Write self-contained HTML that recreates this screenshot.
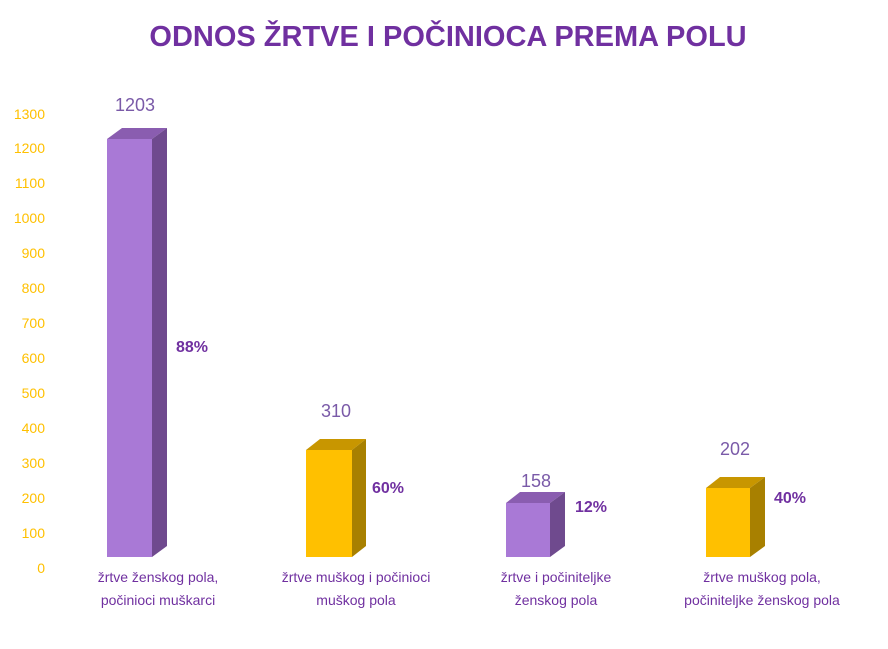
<!DOCTYPE html>
<html><head><meta charset="utf-8"><style>
body{margin:0;background:#fff;width:888px;height:644px;overflow:hidden;font-family:"Liberation Sans",sans-serif}
</style></head><body>
<svg width="888" height="644" xmlns="http://www.w3.org/2000/svg" font-family="Liberation Sans, sans-serif">
<text x="448" y="46" text-anchor="middle" font-size="29" font-weight="bold" fill="#7030A0">ODNOS ŽRTVE I POČINIOCA PREMA POLU</text>
<g fill="#FFC000" font-size="14" text-anchor="end">
<text x="45" y="573">0</text><text x="45" y="538">100</text><text x="45" y="503">200</text><text x="45" y="468">300</text><text x="45" y="433">400</text><text x="45" y="398">500</text><text x="45" y="363">600</text><text x="45" y="328">700</text><text x="45" y="293">800</text><text x="45" y="258">900</text><text x="45" y="223">1000</text><text x="45" y="188">1100</text><text x="45" y="153">1200</text><text x="45" y="119">1300</text>
</g>
<!-- bar1 -->
<polygon points="107,139 122,128 167,128 152,139" fill="#8A5DB0"/>
<polygon points="152,139 167,128 167,546 152,557" fill="#6F4A8E"/>
<rect x="107" y="139" width="45" height="418" fill="#A979D6"/>
<!-- bar2 -->
<polygon points="306,450 320,439 366,439 352,450" fill="#C89600"/>
<polygon points="352,450 366,439 366,546 352,557" fill="#A88000"/>
<rect x="306" y="450" width="46" height="107" fill="#FFC000"/>
<!-- bar3 -->
<polygon points="506,503 520,492 565,492 550,503" fill="#8A5DB0"/>
<polygon points="550,503 565,492 565,546 550,557" fill="#6F4A8E"/>
<rect x="506" y="503" width="44" height="54" fill="#A979D6"/>
<!-- bar4 -->
<polygon points="706,488 720,477 765,477 750,488" fill="#C89600"/>
<polygon points="750,488 765,477 765,546 750,557" fill="#A88000"/>
<rect x="706" y="488" width="44" height="69" fill="#FFC000"/>
<g fill="#7A5AA8" font-size="18" text-anchor="middle">
<text x="135" y="111">1203</text><text x="336" y="417">310</text><text x="536" y="487">158</text><text x="735" y="455">202</text>
</g>
<g fill="#7030A0" font-size="16" font-weight="bold">
<text x="176" y="352">88%</text><text x="372" y="493">60%</text><text x="575" y="512">12%</text><text x="774" y="503">40%</text>
</g>
<g fill="#7030A0" font-size="14" text-anchor="middle">
<text x="158" y="582">žrtve ženskog pola,</text><text x="158" y="605">počinioci muškarci</text>
<text x="356" y="582">žrtve muškog i počinioci</text><text x="356" y="605">muškog pola</text>
<text x="556" y="582">žrtve i počiniteljke</text><text x="556" y="605">ženskog pola</text>
<text x="762" y="582">žrtve muškog pola,</text><text x="762" y="605">počiniteljke ženskog pola</text>
</g>
</svg>
</body></html>
